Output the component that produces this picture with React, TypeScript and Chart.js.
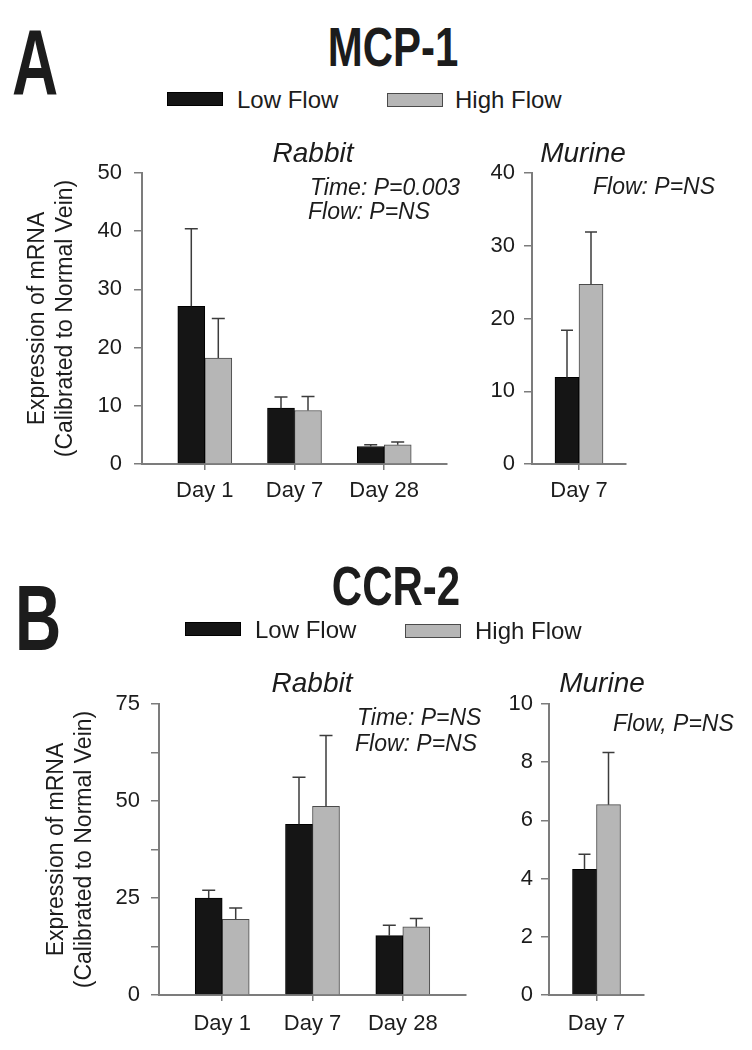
import React, { useEffect, useRef } from 'react';
import { Chart, registerables } from 'chart.js';

Chart.register(...registerables);

const FONT = "'Liberation Sans', Arial, Helvetica, sans-serif";

// ---------- data ----------
const rabbitDays = ['Day 1', 'Day 7', 'Day 28'];
const murineDays = ['Day 7'];
const seriesNames = ['Low Flow', 'High Flow'];

// MCP-1 (panel A)
const mcpRabbitLow = [27.1, 9.6, 3.0];
const mcpRabbitLowErr = [13.3, 1.9, 0.3];
const mcpRabbitHigh = [18.2, 9.2, 3.3];
const mcpRabbitHighErr = [6.8, 2.4, 0.5];
const mcpMurineLow = [11.9];
const mcpMurineLowErr = [6.5];
const mcpMurineHigh = [24.7];
const mcpMurineHighErr = [7.2];

// CCR-2 (panel B)
const ccrRabbitLow = [25.0, 44.0, 15.3];
const ccrRabbitLowErr = [2.0, 12.1, 2.7];
const ccrRabbitHigh = [19.5, 48.6, 17.6];
const ccrRabbitHighErr = [2.9, 18.3, 2.1];
const ccrMurineLow = [4.32];
const ccrMurineLowErr = [0.52];
const ccrMurineHigh = [6.54];
const ccrMurineHighErr = [1.79];

// y tick values and labels
const mcpRabbitTicks = [0, 10, 20, 30, 40, 50];
const mcpRabbitTickLabels = ['0', '10', '20', '30', '40', '50'];
const mcpMurineTicks = [0, 10, 20, 30, 40];
const mcpMurineTickLabels = ['0', '10', '20', '30', '40'];
const ccrRabbitTicks = [0, 12.5, 25, 37.5, 50, 62.5, 75];
const ccrRabbitTickLabels = ['0', '', '25', '', '50', '', '75'];
const ccrMurineTicks = [0, 2, 4, 6, 8, 10];
const ccrMurineTickLabels = ['0', '2', '4', '6', '8', '10'];

const yTitle = ['Expression of mRNA', '(Calibrated to Normal Vein)'];

// ---------- styles ----------
const LOW_FILL = '#151515';
const LOW_BORDER = '#000000';
const HIGH_FILL = '#b6b6b6';
const HIGH_BORDER = '#4a4a4a';
const AXIS = '#7c7c7c';
const TEXT = '#1c1c1c';

type Panel = {
  categories: string[];
  low: number[];
  lowErr: number[];
  high: number[];
  highErr: number[];
  yTicks: number[];
  yTickLabels: string[];
  xRange: [number, number];
  barThickness: number;
  cap: number;
  yWidth: number;
  padTop: number;
  padRight: number;
  xHeight: number;
  yTickPad: number;
  xTickPad: number;
  title?: string[];
  titlePad?: number;
};

const errorBars = {
  id: 'errorBars',
  afterDatasetsDraw(chart: any, _args: any, opts: any) {
    const ctx = chart.ctx;
    const y = chart.scales.y;
    const cap = opts && opts.cap ? opts.cap : 12;
    chart.data.datasets.forEach((ds: any, di: number) => {
      const meta = chart.getDatasetMeta(di);
      meta.data.forEach((el: any, i: number) => {
        const v = ds.data[i].y;
        const e = ds.errors[i];
        const top = y.getPixelForValue(v + e);
        ctx.save();
        ctx.strokeStyle = '#3c3c3c';
        ctx.lineWidth = 1.5;
        ctx.beginPath();
        ctx.moveTo(el.x, el.y);
        ctx.lineTo(el.x, top);
        ctx.moveTo(el.x - cap / 2, top);
        ctx.lineTo(el.x + cap / 2, top);
        ctx.stroke();
        ctx.restore();
      });
    });
  },
};

function makeConfig(p: Panel): any {
  const toPoints = (vals: number[]) => vals.map((v, i) => ({ x: i + 1, y: v }));
  return {
    type: 'bar',
    data: {
      datasets: [
        {
          label: seriesNames[0],
          data: toPoints(p.low),
          errors: p.lowErr,
          backgroundColor: LOW_FILL,
          borderColor: LOW_BORDER,
          borderWidth: 1,
          barThickness: p.barThickness,
        },
        {
          label: seriesNames[1],
          data: toPoints(p.high),
          errors: p.highErr,
          backgroundColor: HIGH_FILL,
          borderColor: HIGH_BORDER,
          borderWidth: 1,
          barThickness: p.barThickness,
        },
      ],
    },
    plugins: [errorBars],
    options: {
      responsive: false,
      animation: false,
      devicePixelRatio: 1,
      layout: { padding: { left: 0, top: p.padTop, right: p.padRight, bottom: 0 } },
      plugins: {
        legend: { display: false },
        tooltip: { enabled: false },
        title: { display: false },
        errorBars: { cap: p.cap },
      },
      scales: {
        x: {
          type: 'linear',
          offset: false,
          min: p.xRange[0],
          max: p.xRange[1],
          afterBuildTicks: (s: any) => {
            s.ticks = p.categories.map((_, i) => ({ value: i + 1 }));
          },
          afterFit: (s: any) => {
            s.height = p.xHeight;
          },
          ticks: {
            callback: (_v: any, i: number) => p.categories[i],
            font: { family: FONT, size: 22 },
            color: TEXT,
            padding: p.xTickPad,
            maxRotation: 0,
            autoSkip: false,
          },
          grid: {
            display: true,
            offset: false,
            drawOnChartArea: false,
            drawTicks: true,
            tickLength: 6,
            color: AXIS,
            lineWidth: 1.5,
          },
          border: { display: true, color: AXIS, width: 2 },
        },
        y: {
          type: 'linear',
          min: p.yTicks[0],
          max: p.yTicks[p.yTicks.length - 1],
          afterBuildTicks: (s: any) => {
            s.ticks = p.yTicks.map((v) => ({ value: v }));
          },
          afterFit: (s: any) => {
            s.width = p.yWidth;
          },
          ticks: {
            callback: (_v: any, i: number) => p.yTickLabels[i],
            font: { family: FONT, size: 22 },
            color: TEXT,
            padding: p.yTickPad,
            autoSkip: false,
          },
          grid: {
            display: true,
            drawOnChartArea: false,
            drawTicks: true,
            tickLength: 8,
            color: AXIS,
            lineWidth: 1.5,
          },
          border: { display: true, color: AXIS, width: 2 },
          title: p.title
            ? {
                display: true,
                text: p.title,
                font: { family: FONT, size: 23 },
                color: TEXT,
                padding: { top: p.titlePad ?? 0, bottom: 0 },
              }
            : { display: false },
        },
      },
    },
  };
}

function BarChart(props: { panel: Panel; left: number; top: number; width: number; height: number }) {
  const ref = useRef<HTMLCanvasElement>(null);
  useEffect(() => {
    const chart = new Chart(ref.current as HTMLCanvasElement, makeConfig(props.panel));
    return () => chart.destroy();
  }, []);
  return (
    <canvas
      ref={ref}
      width={props.width}
      height={props.height}
      style={{ position: 'absolute', left: props.left, top: props.top, width: props.width, height: props.height }}
    />
  );
}

function Txt(props: {
  x: number;
  cy: number;
  size: number;
  text: string;
  bold?: boolean;
  italic?: boolean;
  center?: boolean;
  sy?: number;
}) {
  const { x, cy, size, text, bold, italic, center, sy } = props;
  const w = 400;
  return (
    <div
      style={{
        position: 'absolute',
        left: center ? x - w / 2 : x,
        width: center ? w : undefined,
        top: cy - size / 2,
        fontSize: size,
        lineHeight: `${size}px`,
        fontWeight: bold ? 700 : 400,
        fontStyle: italic ? 'italic' : 'normal',
        textAlign: center ? 'center' : 'left',
        whiteSpace: 'nowrap',
        color: TEXT,
        transform: sy ? `scaleY(${sy})` : undefined,
        transformOrigin: 'center center',
      }}
    >
      {text}
    </div>
  );
}

function Box(props: { x: number; y: number; fill: string; border: string }) {
  return (
    <div
      style={{
        position: 'absolute',
        left: props.x,
        top: props.y,
        width: 54,
        height: 12,
        background: props.fill,
        border: `1px solid ${props.border}`,
      }}
    />
  );
}

const panelMcpRabbit: Panel = {
  categories: rabbitDays,
  low: mcpRabbitLow,
  lowErr: mcpRabbitLowErr,
  high: mcpRabbitHigh,
  highErr: mcpRabbitHighErr,
  yTicks: mcpRabbitTicks,
  yTickLabels: mcpRabbitTickLabels,
  xRange: [0.3, 3.7],
  barThickness: 27,
  cap: 13,
  yWidth: 142,
  padTop: 43,
  padRight: 23,
  xHeight: 50,
  yTickPad: 12,
  xTickPad: 8,
  title: yTitle,
  titlePad: 24,
};

const panelMcpMurine: Panel = {
  categories: murineDays,
  low: mcpMurineLow,
  lowErr: mcpMurineLowErr,
  high: mcpMurineHigh,
  highErr: mcpMurineHighErr,
  yTicks: mcpMurineTicks,
  yTickLabels: mcpMurineTickLabels,
  xRange: [0.5, 1.5],
  barThickness: 24,
  cap: 12,
  yWidth: 62,
  padTop: 43,
  padRight: 126,
  xHeight: 50,
  yTickPad: 9,
  xTickPad: 8,
};

const panelCcrRabbit: Panel = {
  categories: rabbitDays,
  low: ccrRabbitLow,
  lowErr: ccrRabbitLowErr,
  high: ccrRabbitHigh,
  highErr: ccrRabbitHighErr,
  yTicks: ccrRabbitTicks,
  yTickLabels: ccrRabbitTickLabels,
  xRange: [0.3, 3.7],
  barThickness: 27,
  cap: 13,
  yWidth: 159,
  padTop: 44,
  padRight: 14,
  xHeight: 50,
  yTickPad: 11,
  xTickPad: 10,
  title: yTitle,
  titlePad: 43,
};

const panelCcrMurine: Panel = {
  categories: murineDays,
  low: ccrMurineLow,
  lowErr: ccrMurineLowErr,
  high: ccrMurineHigh,
  highErr: ccrMurineHighErr,
  yTicks: ccrMurineTicks,
  yTickLabels: ccrMurineTickLabels,
  xRange: [0.5, 1.5],
  barThickness: 24,
  cap: 12,
  yWidth: 69,
  padTop: 44,
  padRight: 108,
  xHeight: 50,
  yTickPad: 8,
  xTickPad: 10,
};

export default function App() {
  return (
    <div
      style={{
        position: 'absolute',
        left: 0,
        top: 0,
        width: 752,
        height: 1050,
        background: '#ffffff',
        fontFamily: FONT,
        overflow: 'hidden',
      }}
    >
      <BarChart panel={panelMcpRabbit} left={0} top={130} width={470} height={384} />
      <BarChart panel={panelMcpMurine} left={470} top={130} width={282} height={384} />
      <BarChart panel={panelCcrRabbit} left={0} top={660} width={480} height={385} />
      <BarChart panel={panelCcrMurine} left={480} top={660} width={272} height={385} />

      {/* Panel A */}
      <Txt x={35} cy={62} size={64} text="A" bold center sy={1.45} />
      <Txt x={393} cy={48} size={42} text="MCP-1" bold center sy={1.3} />
      <Box x={167} y={92} fill={LOW_FILL} border={LOW_BORDER} />
      <Txt x={237} cy={100} size={24} text={seriesNames[0]} />
      <Box x={387} y={93} fill={HIGH_FILL} border={HIGH_BORDER} />
      <Txt x={455} cy={100} size={24} text={seriesNames[1]} />
      <Txt x={313} cy={153} size={28} text="Rabbit" italic center />
      <Txt x={583} cy={153} size={28} text="Murine" italic center />
      <Txt x={310} cy={187} size={23} text="Time: P=0.003" italic />
      <Txt x={308} cy={211} size={23} text="Flow: P=NS" italic />
      <Txt x={593} cy={186} size={23} text="Flow: P=NS" italic />

      {/* Panel B */}
      <Txt x={38} cy={618} size={64} text="B" bold center sy={1.45} />
      <Txt x={396} cy={587} size={42} text="CCR-2" bold center sy={1.3} />
      <Box x={185} y={622} fill={LOW_FILL} border={LOW_BORDER} />
      <Txt x={255} cy={630} size={24} text={seriesNames[0]} />
      <Box x={405} y={624} fill={HIGH_FILL} border={HIGH_BORDER} />
      <Txt x={475} cy={631} size={24} text={seriesNames[1]} />
      <Txt x={312} cy={683} size={28} text="Rabbit" italic center />
      <Txt x={602} cy={683} size={28} text="Murine" italic center />
      <Txt x={357} cy={717} size={23} text="Time: P=NS" italic />
      <Txt x={355} cy={743} size={23} text="Flow: P=NS" italic />
      <Txt x={613} cy={723} size={23} text="Flow, P=NS" italic />
    </div>
  );
}
